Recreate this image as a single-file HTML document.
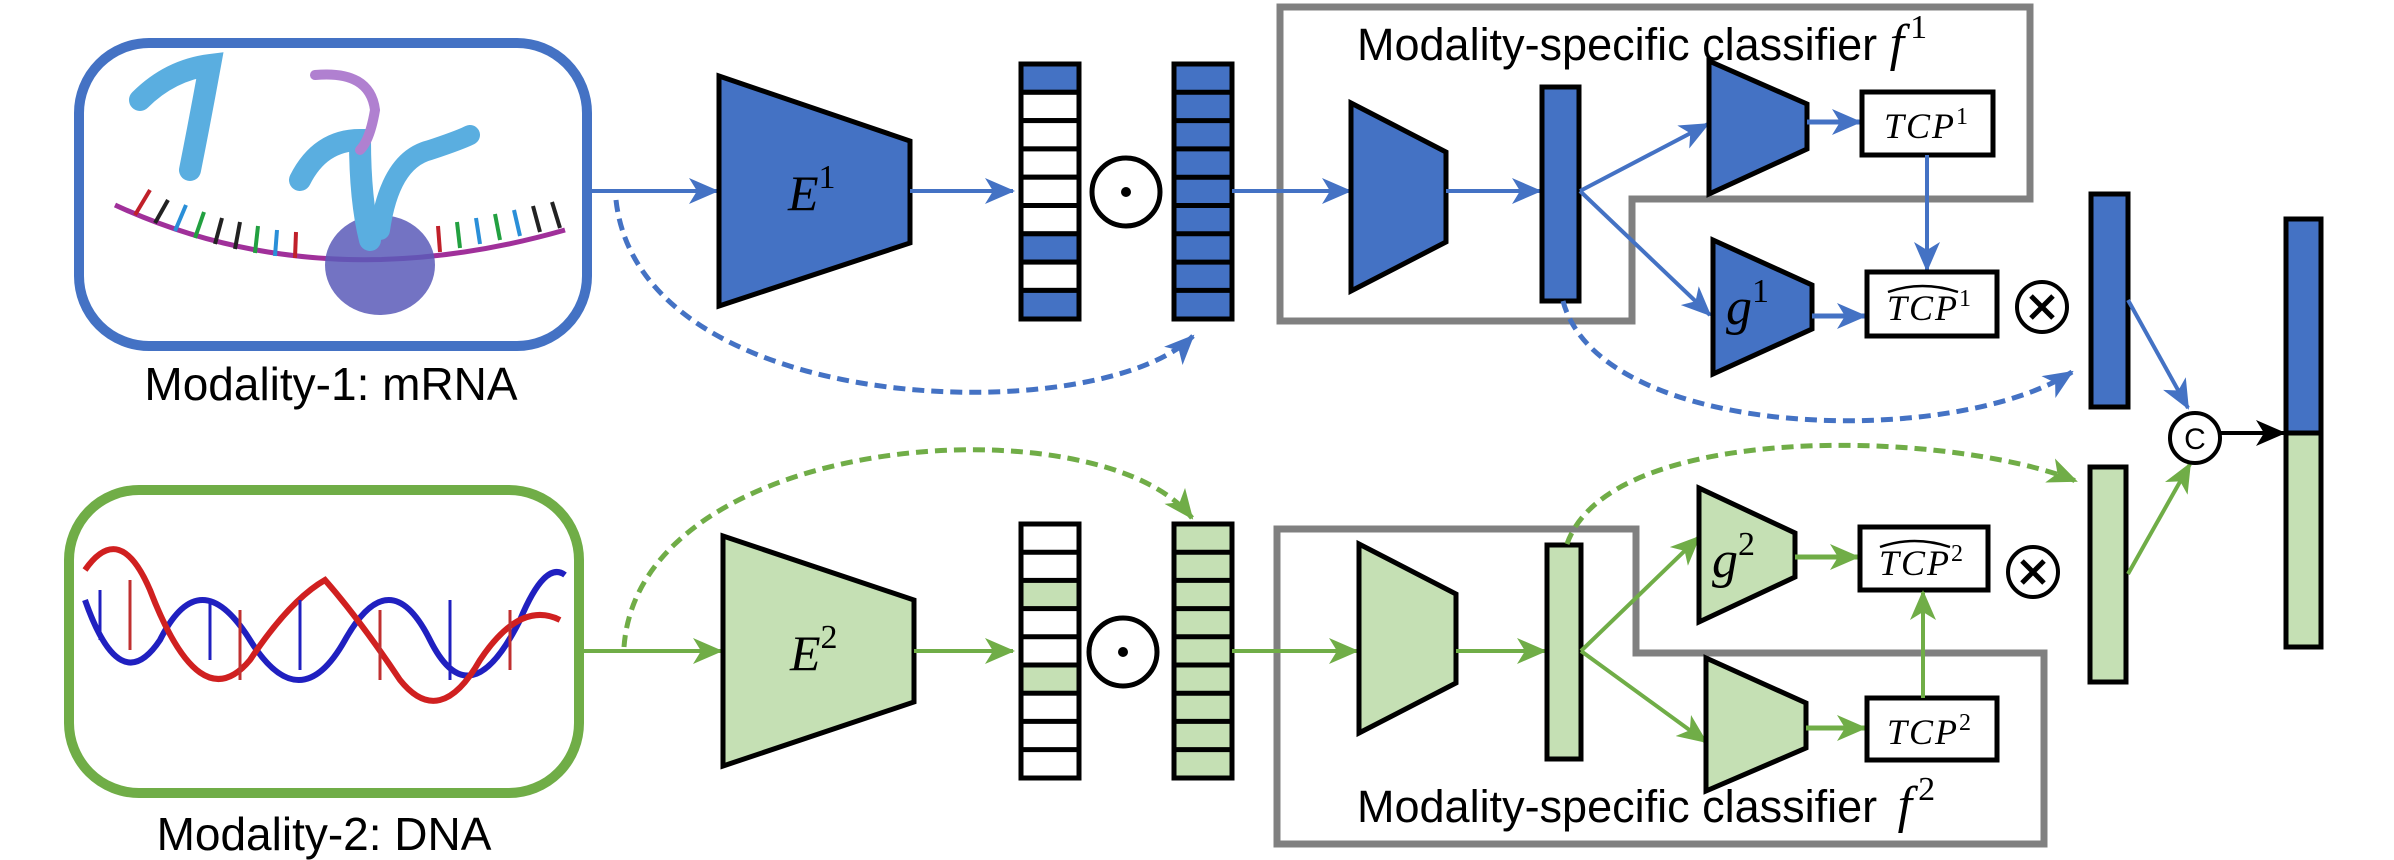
<!DOCTYPE html>
<html><head><meta charset="utf-8"><style>html,body{margin:0;padding:0;background:#fff}svg{display:block}</style></head>
<body>
<svg width="2394" height="860" viewBox="0 0 2394 860" xmlns="http://www.w3.org/2000/svg">
<defs>
<marker id="ab" markerUnits="userSpaceOnUse" markerWidth="30" markerHeight="26" refX="28" refY="13" orient="auto"><path d="M0,0 L30,13 L0,26 L8,13 z" fill="#4472C4"/></marker>
<marker id="ag" markerUnits="userSpaceOnUse" markerWidth="30" markerHeight="26" refX="28" refY="13" orient="auto"><path d="M0,0 L30,13 L0,26 L8,13 z" fill="#70AD47"/></marker>
<marker id="ak" markerUnits="userSpaceOnUse" markerWidth="30" markerHeight="26" refX="28" refY="13" orient="auto"><path d="M0,0 L30,13 L0,26 L8,13 z" fill="#000"/></marker>
</defs>

<!-- mRNA box -->
<rect x="79" y="43" width="508" height="303" rx="70" fill="#fff" stroke="#4472C4" stroke-width="10"/>
<g>
<path d="M115,205 Q320,300 565,230" fill="none" stroke="#a0309a" stroke-width="5"/>
<g stroke-width="4">
<line x1="135" y1="215" x2="150" y2="190" stroke="#c0202a"/><line x1="155" y1="223" x2="168" y2="200" stroke="#222"/>
<line x1="175" y1="231" x2="186" y2="205" stroke="#2a8fd8"/><line x1="195" y1="238" x2="204" y2="212" stroke="#22a040"/>
<line x1="215" y1="244" x2="222" y2="218" stroke="#222"/><line x1="235" y1="249" x2="240" y2="222" stroke="#222"/>
<line x1="255" y1="253" x2="258" y2="226" stroke="#22a040"/><line x1="275" y1="256" x2="277" y2="230" stroke="#2a8fd8"/>
<line x1="295" y1="258" x2="296" y2="232" stroke="#c0202a"/><line x1="440" y1="252" x2="438" y2="226" stroke="#c0202a"/>
<line x1="460" y1="248" x2="457" y2="222" stroke="#22a040"/><line x1="480" y1="244" x2="476" y2="218" stroke="#2a8fd8"/>
<line x1="500" y1="240" x2="495" y2="214" stroke="#22a040"/><line x1="520" y1="236" x2="514" y2="210" stroke="#2a8fd8"/>
<line x1="540" y1="232" x2="533" y2="206" stroke="#222"/><line x1="560" y1="228" x2="552" y2="202" stroke="#222"/>
</g>
<ellipse cx="380" cy="265" rx="55" ry="50" fill="#5a5ab8" opacity="0.85"/>
<path d="M140,100 Q170,70 210,65 Q200,120 190,170" fill="none" stroke="#5aaee0" stroke-width="22" stroke-linecap="round"/>
<path d="M300,180 Q320,140 360,140 Q360,200 370,240" fill="none" stroke="#5aaee0" stroke-width="22" stroke-linecap="round"/>
<path d="M380,230 Q390,160 430,150 Q460,140 470,135" fill="none" stroke="#5aaee0" stroke-width="20" stroke-linecap="round"/>
<path d="M315,75 Q370,70 375,110 Q370,140 360,150" fill="none" stroke="#b080d0" stroke-width="10" stroke-linecap="round"/>
</g>
<text x="331" y="400" font-family="Liberation Sans, sans-serif" font-size="46" text-anchor="middle">Modality-1: mRNA</text>

<!-- DNA box -->
<rect x="69" y="490" width="510" height="303" rx="70" fill="#fff" stroke="#70AD47" stroke-width="10"/>
<path d="M85,600 Q120,700 160,640 Q200,560 250,640 Q300,720 345,640 Q390,560 430,640 Q470,720 520,620 Q545,560 565,575" fill="none" stroke="#2020c0" stroke-width="6"/>
<path d="M85,570 Q120,520 150,590 Q200,720 250,660 Q290,600 325,580 Q360,620 400,680 Q440,730 480,660 Q520,600 560,620" fill="none" stroke="#d02020" stroke-width="6"/>
<g stroke-width="3"><line x1="100" y1="590" x2="100" y2="640" stroke="#2020c0"/><line x1="130" y1="580" x2="130" y2="650" stroke="#c03030"/><line x1="210" y1="600" x2="210" y2="660" stroke="#2020c0"/><line x1="240" y1="610" x2="240" y2="680" stroke="#c03030"/><line x1="300" y1="600" x2="300" y2="670" stroke="#2020c0"/><line x1="380" y1="610" x2="380" y2="680" stroke="#c03030"/><line x1="450" y1="600" x2="450" y2="680" stroke="#2020c0"/><line x1="510" y1="610" x2="510" y2="670" stroke="#c03030"/></g>
<text x="324" y="850" font-family="Liberation Sans, sans-serif" font-size="46" text-anchor="middle">Modality-2: DNA</text>

<!-- top row -->
<line x1="592" y1="191" x2="717" y2="191" stroke="#4472C4" stroke-width="4" marker-end="url(#ab)"/>
<polygon points="719,76 910,141 910,243 719,306" fill="#4472C4" stroke="#000" stroke-width="5"/>
<text x="788" y="210" font-family="Liberation Serif, serif" font-style="italic" font-size="50">E<tspan dy="-22" font-size="34" font-style="normal">1</tspan></text>
<line x1="910" y1="191" x2="1013" y2="191" stroke="#4472C4" stroke-width="4" marker-end="url(#ab)"/>
<g stroke="#000" stroke-width="5">
<rect x="1021" y="64" width="58" height="255" fill="#fff"/>
<rect x="1021" y="64" width="58" height="28.3" fill="#4472C4"/>
<rect x="1021" y="92.3" width="58" height="28.3" fill="#fff"/>
<rect x="1021" y="120.6" width="58" height="28.3" fill="#fff"/>
<rect x="1021" y="148.9" width="58" height="28.3" fill="#fff"/>
<rect x="1021" y="177.2" width="58" height="28.3" fill="#fff"/>
<rect x="1021" y="205.5" width="58" height="28.3" fill="#fff"/>
<rect x="1021" y="233.8" width="58" height="28.3" fill="#4472C4"/>
<rect x="1021" y="262.1" width="58" height="28.3" fill="#fff"/>
<rect x="1021" y="290.4" width="58" height="28.6" fill="#4472C4"/>
<rect x="1174" y="64" width="58" height="255" fill="#4472C4"/>
<line x1="1174" y1="92.3" x2="1232" y2="92.3"/><line x1="1174" y1="120.6" x2="1232" y2="120.6"/><line x1="1174" y1="148.9" x2="1232" y2="148.9"/><line x1="1174" y1="177.2" x2="1232" y2="177.2"/><line x1="1174" y1="205.5" x2="1232" y2="205.5"/><line x1="1174" y1="233.8" x2="1232" y2="233.8"/><line x1="1174" y1="262.1" x2="1232" y2="262.1"/><line x1="1174" y1="290.4" x2="1232" y2="290.4"/>
</g>
<ellipse cx="1126" cy="192" rx="34" ry="34" fill="#fff" stroke="#000" stroke-width="5"/>
<circle cx="1126" cy="192" r="5" fill="#000"/>
<path d="M616,200 C640,420 1100,430 1193,336" fill="none" stroke="#4472C4" stroke-width="5" stroke-dasharray="12,7" marker-end="url(#ab)"/>

<!-- classifier f1 -->
<path d="M1280,7 L2030,7 L2030,199 L1632,199 L1632,321 L1280,321 Z" fill="none" stroke="#808080" stroke-width="7"/>
<text x="1357" y="60" font-family="Liberation Sans, sans-serif" font-size="45">Modality-specific classifier <tspan font-family="Liberation Serif, serif" font-style="italic" font-size="52">f</tspan><tspan dx="6" dy="-22" font-family="Liberation Serif, serif" font-size="34">1</tspan></text>
<line x1="1232" y1="191" x2="1350" y2="191" stroke="#4472C4" stroke-width="4" marker-end="url(#ab)"/>
<polygon points="1351,103 1446,152 1446,242 1351,291" fill="#4472C4" stroke="#000" stroke-width="5"/>
<line x1="1446" y1="191" x2="1540" y2="191" stroke="#4472C4" stroke-width="4" marker-end="url(#ab)"/>
<rect x="1542" y="87" width="37" height="214" fill="#4472C4" stroke="#000" stroke-width="5"/>
<line x1="1580" y1="191" x2="1708" y2="124" stroke="#4472C4" stroke-width="4" marker-end="url(#ab)"/>
<line x1="1580" y1="191" x2="1710" y2="315" stroke="#4472C4" stroke-width="4" marker-end="url(#ab)"/>
<polygon points="1709,61 1807,104 1807,149 1709,194" fill="#4472C4" stroke="#000" stroke-width="5"/>
<line x1="1807" y1="122" x2="1860" y2="122" stroke="#4472C4" stroke-width="5" marker-end="url(#ab)"/>
<rect x="1862" y="92" width="131" height="63" fill="#fff" stroke="#000" stroke-width="5"/>
<text x="1927" y="138" font-family="Liberation Serif, serif" font-style="italic" font-size="36" text-anchor="middle" letter-spacing="2">TCP<tspan dy="-14" font-size="24" font-style="normal">1</tspan></text>
<line x1="1927" y1="155" x2="1927" y2="270" stroke="#4472C4" stroke-width="4" marker-end="url(#ab)"/>
<polygon points="1713,240 1812,285 1812,329 1713,374" fill="#4472C4" stroke="#000" stroke-width="5"/>
<text x="1726" y="324" font-family="Liberation Serif, serif" font-style="italic" font-size="52">g<tspan dy="-22" font-size="34" font-style="normal">1</tspan></text>
<line x1="1812" y1="316" x2="1865" y2="316" stroke="#4472C4" stroke-width="5" marker-end="url(#ab)"/>
<rect x="1867" y="272" width="130" height="64" fill="#fff" stroke="#000" stroke-width="5"/>
<text x="1930" y="320" font-family="Liberation Serif, serif" font-style="italic" font-size="36" text-anchor="middle" letter-spacing="2">TCP<tspan dy="-14" font-size="24" font-style="normal">1</tspan></text>
<path d="M1888,292 Q1922,280 1958,292" fill="none" stroke="#000" stroke-width="2.5"/>
<circle cx="2042" cy="307" r="25" fill="#fff" stroke="#000" stroke-width="4"/>
<path d="M2031,296 L2053,318 M2053,296 L2031,318" stroke="#000" stroke-width="5"/>
<rect x="2091" y="194" width="37" height="213" fill="#4472C4" stroke="#000" stroke-width="5"/>
<line x1="2128" y1="300" x2="2188" y2="408" stroke="#4472C4" stroke-width="4" marker-end="url(#ab)"/>
<path d="M1563,301 C1600,440 1950,450 2072,372" fill="none" stroke="#4472C4" stroke-width="5" stroke-dasharray="12,7" marker-end="url(#ab)"/>

<!-- bottom row -->
<line x1="584" y1="651" x2="721" y2="651" stroke="#70AD47" stroke-width="4" marker-end="url(#ag)"/>
<polygon points="723,536 914,600 914,702 723,766" fill="#C5E0B4" stroke="#000" stroke-width="5"/>
<text x="790" y="670" font-family="Liberation Serif, serif" font-style="italic" font-size="50">E<tspan dy="-22" font-size="34" font-style="normal">2</tspan></text>
<line x1="914" y1="651" x2="1013" y2="651" stroke="#70AD47" stroke-width="4" marker-end="url(#ag)"/>
<g stroke="#000" stroke-width="5">
<rect x="1021" y="524" width="58" height="254" fill="#fff"/>
<rect x="1021" y="580.4" width="58" height="28.2" fill="#C5E0B4"/>
<rect x="1021" y="665" width="58" height="28.2" fill="#C5E0B4"/>
<line x1="1021" y1="552.2" x2="1079" y2="552.2"/><line x1="1021" y1="636.8" x2="1079" y2="636.8"/><line x1="1021" y1="721.4" x2="1079" y2="721.4"/><line x1="1021" y1="749.6" x2="1079" y2="749.6"/>
<rect x="1174" y="524" width="58" height="254" fill="#C5E0B4"/>
<line x1="1174" y1="552.2" x2="1232" y2="552.2"/><line x1="1174" y1="580.4" x2="1232" y2="580.4"/><line x1="1174" y1="608.6" x2="1232" y2="608.6"/><line x1="1174" y1="636.8" x2="1232" y2="636.8"/><line x1="1174" y1="665" x2="1232" y2="665"/><line x1="1174" y1="693.2" x2="1232" y2="693.2"/><line x1="1174" y1="721.4" x2="1232" y2="721.4"/><line x1="1174" y1="749.6" x2="1232" y2="749.6"/>
</g>
<ellipse cx="1123" cy="652" rx="34" ry="34" fill="#fff" stroke="#000" stroke-width="5"/>
<circle cx="1123" cy="652" r="5" fill="#000"/>
<path d="M624,647 C640,430 1100,400 1192,518" fill="none" stroke="#70AD47" stroke-width="5" stroke-dasharray="12,7" marker-end="url(#ag)"/>

<!-- classifier f2 -->
<path d="M1277,529 L1636,529 L1636,653 L2044,653 L2044,844 L1277,844 Z" fill="none" stroke="#808080" stroke-width="7"/>
<text x="1357" y="822" font-family="Liberation Sans, sans-serif" font-size="45">Modality-specific classifier <tspan font-family="Liberation Serif, serif" font-style="italic" font-size="52" dx="8">f</tspan><tspan dx="6" dy="-22" font-family="Liberation Serif, serif" font-size="34">2</tspan></text>
<line x1="1232" y1="651" x2="1357" y2="651" stroke="#70AD47" stroke-width="4" marker-end="url(#ag)"/>
<polygon points="1359,544 1456,594 1456,683 1359,733" fill="#C5E0B4" stroke="#000" stroke-width="5"/>
<line x1="1456" y1="651" x2="1545" y2="651" stroke="#70AD47" stroke-width="4" marker-end="url(#ag)"/>
<rect x="1547" y="545" width="34" height="214" fill="#C5E0B4" stroke="#000" stroke-width="5"/>
<line x1="1581" y1="651" x2="1699" y2="537" stroke="#70AD47" stroke-width="4" marker-end="url(#ag)"/>
<line x1="1581" y1="651" x2="1706" y2="742" stroke="#70AD47" stroke-width="4" marker-end="url(#ag)"/>
<polygon points="1699,488 1795,533 1795,577 1699,622" fill="#C5E0B4" stroke="#000" stroke-width="5"/>
<text x="1712" y="577" font-family="Liberation Serif, serif" font-style="italic" font-size="52">g<tspan dy="-22" font-size="34" font-style="normal">2</tspan></text>
<line x1="1795" y1="557" x2="1858" y2="557" stroke="#70AD47" stroke-width="5" marker-end="url(#ag)"/>
<rect x="1860" y="527" width="128" height="63" fill="#fff" stroke="#000" stroke-width="5"/>
<text x="1922" y="575" font-family="Liberation Serif, serif" font-style="italic" font-size="36" text-anchor="middle" letter-spacing="2">TCP<tspan dy="-14" font-size="24" font-style="normal">2</tspan></text>
<path d="M1880,547 Q1914,535 1950,547" fill="none" stroke="#000" stroke-width="2.5"/>
<circle cx="2033" cy="572" r="25" fill="#fff" stroke="#000" stroke-width="4"/>
<path d="M2022,561 L2044,583 M2044,561 L2022,583" stroke="#000" stroke-width="5"/>
<polygon points="1706,658 1806,703 1806,748 1706,791" fill="#C5E0B4" stroke="#000" stroke-width="5"/>
<line x1="1806" y1="728" x2="1865" y2="728" stroke="#70AD47" stroke-width="5" marker-end="url(#ag)"/>
<rect x="1867" y="698" width="130" height="62" fill="#fff" stroke="#000" stroke-width="5"/>
<text x="1930" y="744" font-family="Liberation Serif, serif" font-style="italic" font-size="36" text-anchor="middle" letter-spacing="2">TCP<tspan dy="-14" font-size="24" font-style="normal">2</tspan></text>
<line x1="1923" y1="698" x2="1923" y2="592" stroke="#70AD47" stroke-width="4" marker-end="url(#ag)"/>
<rect x="2090" y="467" width="36" height="215" fill="#C5E0B4" stroke="#000" stroke-width="5"/>
<line x1="2128" y1="574" x2="2190" y2="464" stroke="#70AD47" stroke-width="4" marker-end="url(#ag)"/>
<path d="M1567,544 C1610,420 1950,430 2076,481" fill="none" stroke="#70AD47" stroke-width="5" stroke-dasharray="12,7" marker-end="url(#ag)"/>

<!-- concat -->
<circle cx="2195" cy="438" r="25" fill="#fff" stroke="#000" stroke-width="4"/>
<text x="2195" y="449" font-family="Liberation Sans, sans-serif" font-size="30" text-anchor="middle">C</text>
<line x1="2220" y1="433" x2="2284" y2="433" stroke="#000" stroke-width="4" marker-end="url(#ak)"/>
<rect x="2286" y="219" width="35" height="214" fill="#4472C4" stroke="#000" stroke-width="5"/>
<rect x="2286" y="433" width="35" height="214" fill="#C5E0B4" stroke="#000" stroke-width="5"/>
</svg>
</body></html>
